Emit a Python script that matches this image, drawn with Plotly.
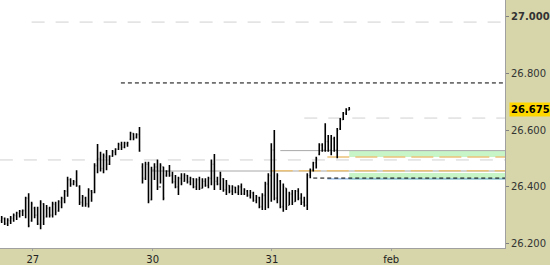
import plotly.graph_objects as go

# OHLC bars (15-min)
high = [26.297,26.292,26.289,26.297,26.306,26.312,26.318,26.320,26.365,26.377,
        26.347,26.330,26.330,26.353,26.342,26.336,26.330,26.347,26.347,26.353,
        26.365,26.389,26.436,26.430,26.424,26.459,26.406,26.371,26.365,26.395,
        26.389,26.483,26.551,26.524,26.518,26.530,26.512,26.530,26.536,26.556,
        26.559,26.559,26.559,26.595,26.589,26.589,26.611,26.483,26.489,26.489,
        26.471,26.483,26.497,26.483,26.471,26.459,26.477,26.453,26.442,26.436,
        26.448,26.448,26.442,26.436,26.430,26.430,26.436,26.430,26.430,26.436,
        26.497,26.516,26.436,26.453,26.430,26.424,26.406,26.406,26.400,26.406,
        26.412,26.395,26.389,26.389,26.383,26.371,26.365,26.377,26.418,26.448,
        26.554,26.601,26.448,26.424,26.412,26.395,26.383,26.389,26.389,26.395,
        26.377,26.365,26.448,26.465,26.489,26.506,26.554,26.554,26.625,26.583,
        26.583,26.577,26.608,26.643,26.664,26.678,26.682]
low = [26.272,26.265,26.262,26.269,26.277,26.283,26.292,26.297,26.289,26.257,
       26.277,26.289,26.265,26.250,26.265,26.292,26.292,26.292,26.300,26.312,
       26.324,26.342,26.365,26.400,26.406,26.400,26.336,26.330,26.330,26.327,
       26.347,26.377,26.448,26.454,26.448,26.459,26.477,26.506,26.512,26.530,
       26.530,26.536,26.542,26.565,26.565,26.571,26.524,26.412,26.424,26.342,
       26.353,26.424,26.389,26.412,26.353,26.436,26.436,26.412,26.395,26.371,
       26.406,26.418,26.412,26.406,26.395,26.389,26.389,26.395,26.400,26.395,
       26.406,26.389,26.406,26.389,26.383,26.371,26.377,26.371,26.377,26.371,
       26.371,26.371,26.365,26.359,26.347,26.342,26.324,26.318,26.318,26.324,
       26.347,26.353,26.342,26.324,26.312,26.318,26.336,26.336,26.347,26.353,
       26.336,26.330,26.318,26.430,26.454,26.465,26.512,26.524,26.524,26.524,
       26.512,26.524,26.501,26.601,26.636,26.654,26.671]
open_ = [26.280,26.288,26.270,26.280,26.288,26.298,26.306,26.312,26.316,26.360,
         26.280,26.325,26.300,26.268,26.340,26.295,26.322,26.300,26.338,26.315,
         26.345,26.358,26.385,26.425,26.410,26.418,26.400,26.345,26.360,26.340,
         26.385,26.380,26.475,26.500,26.465,26.505,26.480,26.508,26.522,26.533,
         26.548,26.540,26.552,26.568,26.588,26.575,26.585,26.470,26.430,26.480,
         26.355,26.460,26.470,26.400,26.470,26.440,26.455,26.440,26.418,26.400,
         26.430,26.420,26.440,26.418,26.428,26.400,26.425,26.395,26.420,26.405,
         26.430,26.480,26.420,26.410,26.428,26.390,26.405,26.385,26.398,26.380,
         26.400,26.375,26.385,26.370,26.378,26.352,26.362,26.330,26.370,26.410,
         26.440,26.530,26.360,26.420,26.330,26.395,26.335,26.375,26.348,26.385,
         26.360,26.345,26.335,26.440,26.460,26.485,26.515,26.548,26.530,26.560,
         26.530,26.570,26.530,26.605,26.638,26.660,26.672]
close = [26.290,26.270,26.282,26.290,26.300,26.308,26.314,26.316,26.360,26.262,
         26.340,26.300,26.270,26.345,26.290,26.325,26.300,26.340,26.310,26.348,
         26.360,26.385,26.425,26.410,26.418,26.405,26.345,26.365,26.340,26.390,
         26.380,26.475,26.500,26.465,26.510,26.480,26.508,26.525,26.533,26.550,
         26.540,26.555,26.556,26.590,26.572,26.585,26.527,26.430,26.480,26.350,
         26.460,26.470,26.400,26.475,26.360,26.455,26.440,26.418,26.400,26.430,
         26.412,26.440,26.418,26.430,26.400,26.425,26.395,26.420,26.405,26.430,
         26.480,26.420,26.410,26.440,26.390,26.410,26.385,26.400,26.380,26.400,
         26.375,26.390,26.370,26.380,26.352,26.365,26.330,26.370,26.410,26.440,
         26.530,26.360,26.440,26.330,26.400,26.330,26.375,26.345,26.385,26.360,
         26.345,26.335,26.440,26.460,26.485,26.500,26.548,26.530,26.560,26.530,
         26.570,26.530,26.600,26.638,26.660,26.672,26.675]
bar_index = list(range(len(high)))

# day labels (bar-slot positions)
day_labels = ["27", "30", "31", "feb"]
day_positions = [10.4, 50.4, 90.2, 130.0]

y_ticks = [26.2, 26.4, 26.6, 26.8, 27.0]
y_tick_text = ["26.200", "26.400", "26.600", "26.800", "<b>27.000</b>"]
last_price = 26.675

# horizontal levels: value, start slot
gray_dash_levels = [26.982, 26.643, 26.495]
gray_dash_starts = [10.0, 101.0, -0.6]
black_dash_levels = [26.767, 26.431]
black_dash_starts = [39.8, 104.0]
gray_solid_levels = [26.528, 26.456]
gray_solid_starts = [93.0, 50.0]
orange_levels = [26.505, 26.457]
orange_starts = [108.7, 89.8]
blue_levels = [26.428]
blue_starts = [108.7]
green_bands = [(26.505, 26.527), (26.425, 26.449)]
green_start = 116.0

X_MIN, X_MAX = -0.56, 168.0

fig = go.Figure()
fig.add_trace(go.Ohlc(
    x=bar_index, open=open_, high=high, low=low, close=close,
    increasing=dict(line=dict(color="black", width=1.6)),
    decreasing=dict(line=dict(color="black", width=1.6)),
    tickwidth=0.3, hoverinfo="skip", showlegend=False))

shapes = []
for (lo, hi) in green_bands:
    shapes.append(dict(type="rect", xref="x", yref="y", x0=green_start, x1=X_MAX,
                       y0=lo, y1=hi, fillcolor="#c8f5c8", line=dict(width=0), layer="below"))
for v, s in zip(gray_dash_levels, gray_dash_starts):
    shapes.append(dict(type="line", xref="x", yref="y", x0=s, x1=X_MAX, y0=v, y1=v,
                       line=dict(color="#d0d0d0", width=1, dash="13px,11px"), layer="below"))
for v, s in zip(gray_solid_levels, gray_solid_starts):
    shapes.append(dict(type="line", xref="x", yref="y", x0=s, x1=X_MAX, y0=v, y1=v,
                       line=dict(color="#a8a8a8", width=1), layer="below"))
for v, s in zip(orange_levels, orange_starts):
    shapes.append(dict(type="line", xref="x", yref="y", x0=s, x1=X_MAX, y0=v, y1=v,
                       line=dict(color="#ebc27a", width=1.5, dash="22px,6px"), layer="below"))
for v, s in zip(blue_levels, blue_starts):
    shapes.append(dict(type="line", xref="x", yref="y", x0=s, x1=X_MAX, y0=v, y1=v,
                       line=dict(color="#70a0e0", width=1), layer="below"))
for v, s in zip(black_dash_levels, black_dash_starts):
    shapes.append(dict(type="line", xref="x", yref="y", x0=s, x1=X_MAX, y0=v, y1=v,
                       line=dict(color="black", width=1, dash="4px,3px"), layer="below"))

fig.update_layout(
    width=550, height=265,
    margin=dict(l=0, r=41, t=0, b=17),
    paper_bgcolor="#d6d6aa", plot_bgcolor="white",
    shapes=shapes,
    font=dict(family="DejaVu Sans", size=10, color="#333333"),
    xaxis=dict(range=[X_MIN, X_MAX], rangeslider=dict(visible=False),
               tickvals=day_positions, ticktext=day_labels,
               showgrid=False, zeroline=False, showline=True, linecolor="#a0a0a0",
               ticks="outside", ticklen=2, tickcolor="#a0a0a0",
               tickfont=dict(size=10, color="#222222")),
    yaxis=dict(range=[26.184, 27.060], side="right", tickvals=y_ticks, ticktext=y_tick_text,
               showgrid=False, zeroline=False, showline=True, linecolor="#a0a0a0",
               ticks="outside", ticklen=3, tickcolor="#808080",
               tickfont=dict(size=10, color="#333333")),
    annotations=[dict(x=1, xref="paper", y=last_price, yref="y", xanchor="left",
                      xshift=4, text="<b>%.3f</b>" % last_price, showarrow=False,
                      bgcolor="#ffd700", borderpad=1,
                      font=dict(family="DejaVu Sans", size=10, color="black"))],
)
fig.write_html("out.html")
